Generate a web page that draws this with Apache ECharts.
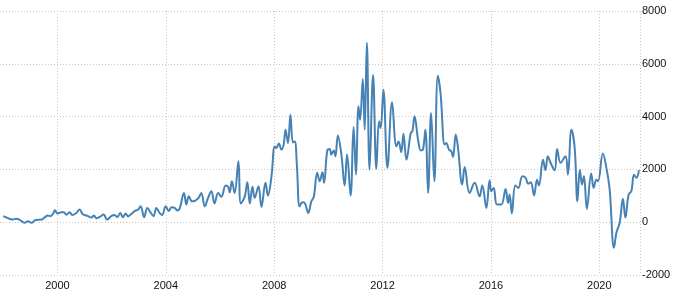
<!DOCTYPE html>
<html>
<head>
<meta charset="utf-8">
<script src="https://cdn.jsdelivr.net/npm/echarts@6/dist/echarts.min.js"></script>
<style>
  html, body { margin: 0; padding: 0; background: #fff; }
  #chart { width: 675px; height: 293px; }
</style>
</head>
<body>
<div id="chart"></div>
<script>
  // decimal year of each reading
  var years = [
    1998.00, 1998.12, 1998.34, 1998.49, 1998.61, 1998.79, 1998.92, 1999.04, 1999.20, 1999.41,
    1999.53, 1999.65, 1999.74, 1999.84, 1999.91, 2000.01, 2000.15, 2000.24, 2000.33, 2000.45,
    2000.55, 2000.70, 2000.82, 2000.94, 2001.13, 2001.25, 2001.35, 2001.44, 2001.56, 2001.71,
    2001.83, 2001.99, 2002.11, 2002.21, 2002.32, 2002.42, 2002.52, 2002.61, 2002.70, 2002.88,
    2002.97, 2003.07, 2003.20, 2003.32, 2003.43, 2003.55, 2003.65, 2003.77, 2003.86, 2004.00,
    2004.11, 2004.21, 2004.33, 2004.43, 2004.52, 2004.67, 2004.76, 2004.85, 2004.97, 2005.09,
    2005.21, 2005.31, 2005.44, 2005.56, 2005.68, 2005.80, 2005.93, 2006.05, 2006.21, 2006.30,
    2006.36, 2006.44, 2006.54, 2006.68, 2006.77, 2006.91, 2007.01, 2007.10, 2007.20, 2007.28,
    2007.42, 2007.53, 2007.68, 2007.77, 2007.90, 2008.02, 2008.08, 2008.17, 2008.27, 2008.35,
    2008.42, 2008.51, 2008.60, 2008.69, 2008.76, 2008.84, 2008.94, 2009.04, 2009.13, 2009.26,
    2009.37, 2009.46, 2009.59, 2009.68, 2009.78, 2009.84, 2009.96, 2010.05, 2010.11, 2010.20,
    2010.26, 2010.35, 2010.48, 2010.60, 2010.69, 2010.82, 2010.93, 2011.02, 2011.11, 2011.17,
    2011.27, 2011.34, 2011.42, 2011.52, 2011.65, 2011.77, 2011.87, 2011.93, 2012.03, 2012.18,
    2012.35, 2012.51, 2012.59, 2012.69, 2012.77, 2012.88, 2013.04, 2013.10, 2013.18, 2013.31,
    2013.41, 2013.49, 2013.58, 2013.68, 2013.79, 2013.91, 2014.04, 2014.14, 2014.29, 2014.35,
    2014.45, 2014.54, 2014.60, 2014.70, 2014.78, 2014.94, 2015.03, 2015.21, 2015.40, 2015.58,
    2015.68, 2015.83, 2015.95, 2016.01, 2016.10, 2016.22, 2016.38, 2016.54, 2016.63, 2016.69,
    2016.77, 2016.90, 2017.01, 2017.16, 2017.28, 2017.37, 2017.47, 2017.59, 2017.70, 2017.77,
    2017.92, 2018.01, 2018.10, 2018.20, 2018.35, 2018.44, 2018.57, 2018.75, 2018.84, 2018.97,
    2019.09, 2019.19, 2019.28, 2019.36, 2019.43, 2019.54, 2019.70, 2019.79, 2019.89, 2019.95,
    2020.13, 2020.26, 2020.38, 2020.54, 2020.63, 2020.75, 2020.87, 2020.96, 2021.08, 2021.18,
    2021.28, 2021.37, 2021.46
  ];
  var values = [
    230, 180, 100, 130, 90, -20, 40, -20, 80, 100,
    180, 250, 230, 320, 450, 330, 380, 380, 280, 380,
    270, 350, 480, 300, 230, 180, 250, 150, 200, 290,
    100, 230, 270, 190, 350, 190, 330, 220, 290, 440,
    470, 600, 190, 540, 380, 230, 540, 350, 270, 600,
    420, 570, 540, 440, 540, 1110, 670, 980, 790, 820,
    920, 1110, 600, 920, 1170, 710, 1110, 960, 1390, 1340,
    1130, 1550, 1110, 2310, 710, 960, 1510, 710, 1340, 920,
    1360, 580, 1490, 1010, 1740, 2870, 2810, 2980, 2750, 2940,
    3500, 3000, 4070, 3020, 3060, 2120, 600, 760, 730, 350,
    790, 950, 1870, 1550, 1890, 1490, 2720, 2770, 2560, 2720,
    2500, 3280, 2560, 1390, 2560, 1010, 3610, 1800, 4390, 3880,
    5420, 3500, 6800, 1990, 5580, 2020, 3820, 3570, 5020, 2060,
    4540, 2870, 3060, 2650, 3350, 2370, 3380, 3440, 4010, 3130,
    2720, 2750, 3500, 1110, 4140, 1550, 5550, 4890, 2940, 3000,
    2750, 2680, 2470, 3320, 2850, 1430, 2090, 1110, 1490, 980,
    1390, 540, 1590, 1170, 1300, 670, 670, 1260, 730, 1050,
    330, 1390, 1300, 1740, 1680, 1460, 1510, 1010, 1610, 1390,
    2370, 1970, 2500, 2250, 1970, 2770, 2250, 2500, 1800, 3500,
    2810, 790, 1990, 1430, 1740, 510, 1840, 1300, 1610, 1550,
    2600, 2060, 1240, -970, -400, -20, 890, 170, 1050, 1170,
    1800, 1680, 1970
  ];
  var yearTicks = [2000, 2004, 2008, 2012, 2016, 2020];

  var points = [];
  for (var i = 0; i < years.length; i++) {
    points.push([years[i], values[i]]);
  }

  var myChart = echarts.init(document.getElementById('chart'));
  var option = {
    backgroundColor: '#ffffff',
    animation: false,
    grid: {
      left: -51,   // 1996 sits off the left edge, so the 4-year ticks land on 2000..2020
      right: 35,
      top: 11,
      bottom: 18,
      containLabel: false,
      outerBoundsMode: 'none'
    },
    xAxis: {
      type: 'value',
      min: 1996,
      max: 2021.5,
      interval: 4,
      axisLine: { show: false },
      axisTick: { show: false },
      axisLabel: {
        margin: 5,
        color: '#111',
        fontSize: 11,
        fontFamily: 'Liberation Sans',
        showMaxLabel: false,
        formatter: function (v) {
          return yearTicks.indexOf(v) >= 0 ? String(v) : '';
        }
      },
      splitLine: {
        show: true,
        lineStyle: { color: '#c8c8c8', type: [1, 2], width: 1 }
      }
    },
    yAxis: {
      type: 'value',
      position: 'right',
      min: -2000,
      max: 8000,
      interval: 2000,
      axisLine: { show: false },
      axisTick: { show: false },
      axisLabel: {
        margin: 2,
        color: '#111',
        fontSize: 11,
        fontFamily: 'Liberation Sans',
        formatter: function (v) { return String(v); }
      },
      splitLine: {
        lineStyle: { color: '#c8c8c8', type: [1, 2], width: 1 }
      }
    },
    series: [{
      type: 'line',
      data: points,
      smooth: 0.4,
      symbol: 'none',
      clip: true,
      lineStyle: { color: '#4682b4', width: 2 }
    }]
  };
  myChart.setOption(option);
</script>
</body>
</html>
